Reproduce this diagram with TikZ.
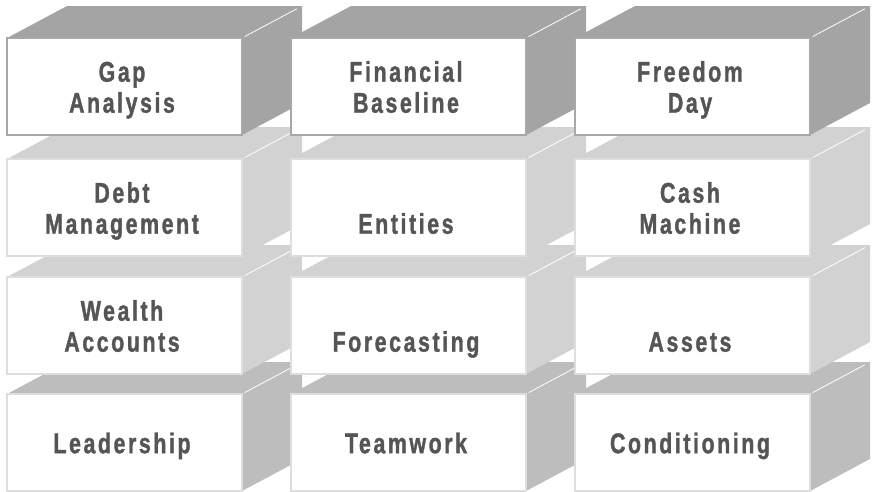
\documentclass[tikz,border=0pt]{standalone}
\usepackage{fontspec}
\setmainfont{Liberation Sans}[FakeStretch=0.75,LetterSpace=9,BoldFeatures={FakeBold=1.2}]
\definecolor{topdark}{HTML}{A4A4A4}
\definecolor{toplight}{HTML}{D2D2D2}
\definecolor{topmid}{HTML}{BDBDBD}
\definecolor{rimdark}{HTML}{A8A8A8}
\definecolor{rimlight}{HTML}{DEDEDE}
\definecolor{txt}{HTML}{555555}
\tikzset{rim/.style={draw=#1,fill=white,line width=2.5pt},
	shine/.style={white,line width=0.8pt,shorten <=3pt,shorten >=6pt},
	lbl/.style={align=center,inner sep=0pt,text=txt,font=\fontsize{28.5}{31}\selectfont\bfseries}}
\begin{document}
\begin{tikzpicture}[x=1pt,y=-1pt,line join=miter]
				\useasboundingbox (0,0) rectangle (874,491);
				\def\w{235}
				\def\h{97}
				\def\dx{60}
				\def\dy{32}
				\foreach \y/\fc/\rc in {394/topmid/rimlight,277/toplight/rimlight,159/toplight/rimlight,38/topdark/rimdark}{
					\foreach \x in {7,291,575}{
						\fill[\fc] (\x,\y)--++(\dx,-\dy)--++(\w,0)--++(0,\h)--(\x+\w,\y+\h)--cycle;
						\draw[rim=\rc] (\x,\y) rectangle ++(\w,\h);
						\draw[shine] (\x+\w,\y)--++(\dx,-\dy);
					}
				}
				\node[lbl] (gap) at (122,91) {\strut Gap\\\strut Analysis};
				\node[lbl] (baseline) at (406,91) {\strut Financial\\\strut Baseline};
				\node[lbl] (freedom) at (690,91) {\strut Freedom\\\strut Day};
				\node[lbl] (debt) at (122,212) {\strut Debt\\\strut Management};
				\node[lbl] (entities) at (406,212) {\strut\\\strut Entities};
				\node[lbl] (cash) at (690,212) {\strut Cash\\\strut Machine};
				\node[lbl] (wealth) at (122,330) {\strut Wealth\\\strut Accounts};
				\node[lbl] (forecast) at (406,330) {\strut\\\strut Forecasting};
				\node[lbl] (assets) at (690,330) {\strut\\\strut Assets};
				\node[lbl] (leader) at (122,447) {\strut Leadership};
				\node[lbl] (team) at (406,447) {\strut Teamwork};
				\node[lbl] (cond) at (690,447) {\strut Conditioning};
\end{tikzpicture}
\end{document}
